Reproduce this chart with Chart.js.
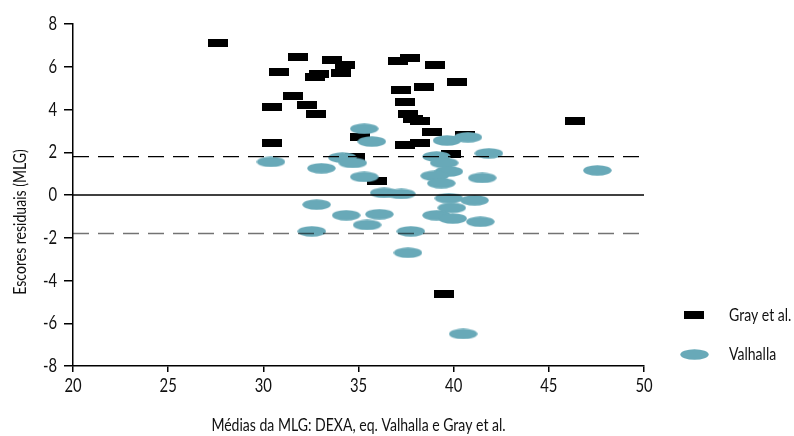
<!DOCTYPE html>
<html>
<head>
<meta charset="utf-8">
<script src="https://cdn.jsdelivr.net/npm/chart.js@4"></script>
<style>
  html, body { margin: 0; padding: 0; background: #fff; }
  #wrap { width: 794px; height: 436px; }
</style>
</head>
<body>
<div id="wrap"><canvas id="blandAltman"></canvas></div>
<script>
// Gray et al. residuals
const grayX = [27.6, 30.8, 31.8, 31.55, 30.45, 30.45, 32.3, 32.75, 32.7, 32.95, 33.6, 34.3, 34.1, 35.1, 34.8, 35.95,
  37.1, 37.7, 39.0, 40.2, 37.25, 38.45, 37.45, 37.6, 37.85, 38.25, 46.4, 38.85, 40.6, 37.45, 38.25, 39.85, 39.5];
const grayY = [7.1, 5.75, 6.45, 4.65, 4.1, 2.45, 4.2, 3.8, 5.5, 5.65, 6.3, 6.1, 5.7, 2.7, 1.8, 0.65,
  6.25, 6.4, 6.1, 5.3, 4.9, 5.05, 4.35, 3.8, 3.55, 3.45, 3.45, 2.95, 2.8, 2.35, 2.45, 1.9, -4.65];

// Valhalla residuals
const valhallaX = [30.4, 33.05, 35.3, 35.7, 34.15, 34.7, 35.3, 36.35, 37.25, 32.8, 34.35, 35.45, 36.1, 32.55,
  37.75, 37.6, 40.5, 39.1, 39.95, 39.9, 39.75, 41.1, 41.4, 39.65, 40.75, 41.85, 39.1, 39.5, 39.75, 39.0, 39.35, 41.5, 47.55];
const valhallaY = [1.55, 1.25, 3.1, 2.5, 1.75, 1.5, 0.85, 0.1, 0.05, -0.45, -0.95, -1.4, -0.9, -1.7,
  -1.7, -2.7, -6.5, -0.95, -1.1, -0.6, -0.15, -0.25, -1.25, 2.55, 2.7, 1.95, 1.8, 1.5, 1.1, 0.9, 0.55, 0.8, 1.15];

const limitUpper = 1.8;
const limitLower = -1.8;
const xTicks = [20, 25, 30, 35, 40, 45, 50];
const yTicks = [-8, -6, -4, -2, 0, 2, 4, 6, 8];

const FONT = 'Lato, "Open Sans", sans-serif';
const TEAL = '#68a9b8';
const CONDENSE = 0.78; // the original uses a condensed face

// marker images
const makeRect = () => {
  const c = document.createElement('canvas');
  c.width = 20; c.height = 8;
  const g = c.getContext('2d');
  g.fillStyle = '#000';
  g.fillRect(0, 0, 20, 8);
  return c;
};
const makeEllipse = () => {
  const c = document.createElement('canvas');
  c.width = 29; c.height = 11;
  const g = c.getContext('2d');
  g.fillStyle = TEAL;
  g.beginPath();
  g.ellipse(14.5, 5.5, 14.2, 5.3, 0, 0, Math.PI * 2);
  g.fill();
  return c;
};
const rectMark = makeRect();
const ellipseMark = makeEllipse();

const toPoints = (xs, ys) => xs.map((x, i) => ({ x: x, y: ys[i] }));
const hLine = (y) => [{ x: xTicks[0], y: y }, { x: xTicks[xTicks.length - 1], y: y }];

// squeeze all text horizontally around its anchor
const condensedText = {
  id: 'condensedText',
  beforeInit(chart) {
    const ctx = chart.ctx;
    const orig = ctx.fillText.bind(ctx);
    ctx.fillText = function (text, x, y, maxWidth) {
      ctx.save();
      ctx.translate(x, y);
      ctx.scale(CONDENSE, 1);
      orig(text, 0, 0);
      ctx.restore();
    };
  },
};

// legend + y title placed like the original figure (title sits below the axis middle)
const sideLegend = {
  id: 'sideLegend',
  afterDraw(chart) {
    const ctx = chart.ctx;
    const items = [
      { img: rectMark, text: 'Gray et al.', y: 315 },
      { img: ellipseMark, text: 'Valhalla', y: 354 },
    ];
    ctx.save();
    ctx.font = '18px ' + FONT;
    ctx.fillStyle = '#111';
    ctx.textBaseline = 'middle';
    items.forEach((it) => {
      ctx.drawImage(it.img, Math.round(694 - it.img.width / 2), Math.round(it.y - it.img.height / 2));
      ctx.fillText(it.text, 729, it.y);
    });
    ctx.translate(20, 222);
    ctx.rotate(-Math.PI / 2);
    ctx.textAlign = 'center';
    ctx.fillText('Escores residuais (MLG)', 0, 0);
    ctx.restore();
  },
};

new Chart(document.getElementById('blandAltman'), {
  type: 'scatter',
  data: {
    datasets: [
      {
        label: 'Gray et al.',
        data: toPoints(grayX, grayY),
        pointStyle: rectMark,
        order: 3,
      },
      {
        label: 'Valhalla',
        data: toPoints(valhallaX, valhallaY),
        pointStyle: ellipseMark,
        order: 2,
      },
      {
        type: 'line',
        label: 'zero',
        data: hLine(0),
        borderColor: '#000',
        borderWidth: 1.3,
        pointRadius: 0,
        order: 1,
      },
      {
        type: 'line',
        label: 'upper',
        data: hLine(limitUpper),
        borderColor: '#000',
        borderWidth: 1.3,
        borderDash: [16, 9],
        pointRadius: 0,
        order: 1,
      },
      {
        type: 'line',
        label: 'lower',
        data: hLine(limitLower),
        borderColor: 'rgba(0,0,0,0.55)',
        borderWidth: 1.5,
        borderDash: [16, 9],
        pointRadius: 0,
        order: 1,
      },
    ],
  },
  options: {
    responsive: true,
    maintainAspectRatio: false,
    animation: false,
    events: [],
    layout: { padding: { top: 24, right: 150, bottom: 0, left: 0 } },
    plugins: {
      legend: { display: false },
      tooltip: { enabled: false },
    },
    scales: {
      x: {
        type: 'linear',
        min: 20,
        max: 50,
        afterBuildTicks: (scale) => { scale.ticks = xTicks.map((v) => ({ value: v })); },
        afterFit: (scale) => { scale.height = 70; },
        border: { display: true, color: '#000', width: 1.5 },
        grid: { drawOnChartArea: false, drawTicks: true, tickLength: 6, color: '#000', lineWidth: 1.5 },
        ticks: { color: '#111', font: { family: FONT, size: 19 }, padding: 2, maxRotation: 0 },
        title: {
          display: true,
          text: 'Médias da MLG: DEXA, eq. Valhalla e Gray et al.',
          color: '#111',
          font: { family: FONT, size: 18 },
          padding: { top: 0, bottom: 0 },
        },
      },
      y: {
        type: 'linear',
        min: -8,
        max: 8,
        afterBuildTicks: (scale) => { scale.ticks = yTicks.map((v) => ({ value: v })); },
        afterFit: (scale) => { scale.width = 73; },
        border: { display: true, color: '#000', width: 1.5 },
        grid: { drawOnChartArea: false, drawTicks: true, tickLength: 9, color: '#000', lineWidth: 1.5 },
        ticks: { color: '#111', font: { family: FONT, size: 19 }, padding: 7 },
        title: { display: false },
      },
    },
  },
  plugins: [condensedText, sideLegend],
});
</script>
</body>
</html>
